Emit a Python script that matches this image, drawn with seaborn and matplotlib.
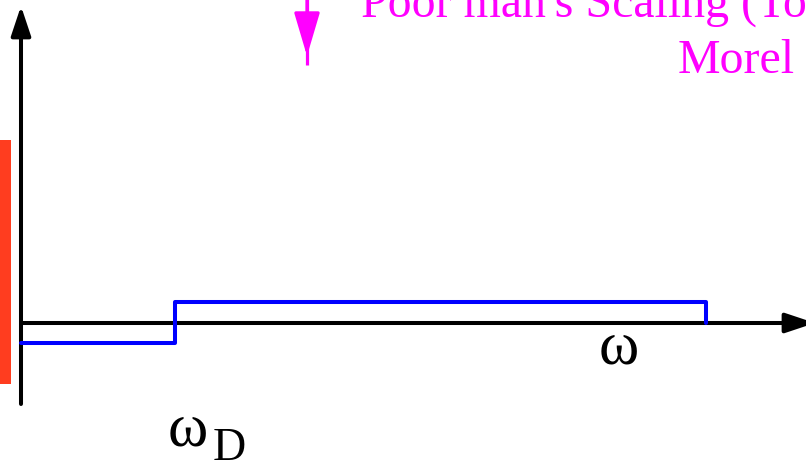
import matplotlib
matplotlib.use("Agg")
import matplotlib.pyplot as plt
import seaborn as sns
import pandas as pd

sns.set_theme(style="white")
plt.rcParams["font.family"] = ["Liberation Serif", "DejaVu Serif"]

# Effective interaction kernel vs frequency (arbitrary units, origin at axes crossing)
step_omega = [0, 154, 685]          # 0, omega_D, cutoff
step_value = [-20, 21, 0]           # -mu*, lambda - mu*, 0
kernel = pd.DataFrame({"omega": step_omega, "V": step_value})

# Coulomb bar at the left edge
bar_left, bar_width = -21, 11
bar_bottom, bar_top = -61, 183

# Axes extents
x_axis_end = 794
y_axis_bottom, y_axis_top = -81, 317

# Magenta pointer: shaft runs slightly past the head
pointer_x = 286
pointer_top, pointer_head_tip, pointer_shaft_end = 330, 267, 258

title_line1 = "Poor man's Scaling (Tolmachev,"
title_line2 = "Morel"

fig = plt.figure(figsize=(8.06, 4.64), dpi=100)
ax = fig.add_axes([0, 0, 1, 1])
ax.set_xlim(-21, 785)
ax.set_ylim(-140, 324)
ax.axis("off")


def axis_arrow():
    return dict(arrowstyle="-|>,head_length=18,head_width=6", color="black",
                lw=2.9, shrinkA=0, shrinkB=0, mutation_scale=1)


# Coulomb bar
ax.bar(bar_left + bar_width / 2, bar_top - bar_bottom, bottom=bar_bottom,
       width=bar_width, color="#ff3d1f", edgecolor="none", zorder=2)

# Axes arrows
ax.annotate("", xy=(0, y_axis_top), xytext=(0, y_axis_bottom),
            arrowprops=axis_arrow(), zorder=3)
ax.annotate("", xy=(x_axis_end, 0), xytext=(0, 0),
            arrowprops=axis_arrow(), zorder=3, annotation_clip=False)

# Step kernel
sns.lineplot(data=kernel, x="omega", y="V", drawstyle="steps-post",
             sort=False, estimator=None, color="#0000ff", lw=2.9, ax=ax,
             zorder=4)
ax.set_xlim(-21, 785)
ax.set_ylim(-140, 324)
ax.set_xlabel("")
ax.set_ylabel("")

# Magenta pointer arrow
ax.plot([pointer_x, pointer_x], [pointer_top, pointer_shaft_end],
        color="#ff00ff", lw=2.3, solid_capstyle="butt", zorder=3)
ax.annotate("", xy=(pointer_x, pointer_head_tip), xytext=(pointer_x, pointer_top),
            arrowprops=dict(arrowstyle="-|>,head_length=27,head_width=8",
                            color="#ff00ff", lw=2.3, shrinkA=0, shrinkB=0,
                            mutation_scale=1), zorder=3)

# Labels
ax.text(340, 307, title_line1, color="#ff00ff", fontsize=34.5,
        ha="left", va="baseline")
ax.text(657, 251, title_line2, color="#ff00ff", fontsize=34.5,
        ha="left", va="baseline")
ax.text(578, -39, "ω", color="black", fontsize=44, ha="left", va="baseline")
ax.text(147, -122, "ω", color="black", fontsize=44, ha="left", va="baseline")
ax.text(192, -136, "D", color="black", fontsize=33, ha="left", va="baseline")

fig.savefig("out.png", dpi=100)
